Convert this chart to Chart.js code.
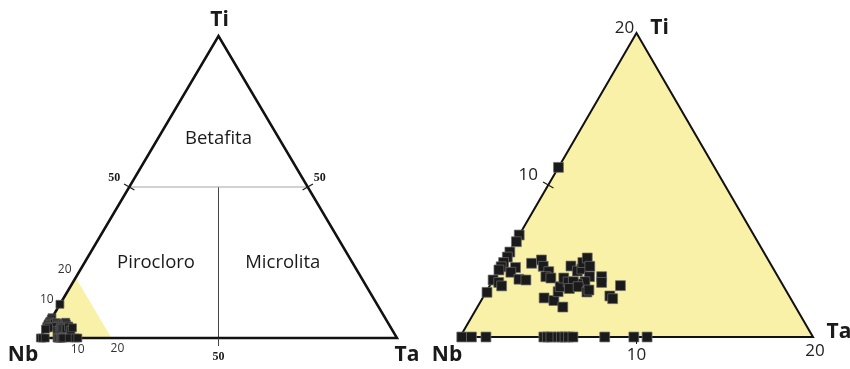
<!DOCTYPE html>
<html>
<head>
<meta charset="utf-8">
<script src="https://cdn.jsdelivr.net/npm/chart.js@4/dist/chart.umd.min.js"></script>
<style>
  html, body { margin: 0; padding: 0; background: #ffffff; }
  #wrap { position: relative; width: 850px; height: 369px; overflow: hidden; }
  #wrap canvas { position: absolute; top: 0; }
</style>
</head>
<body>
<div id="wrap">
  <canvas id="fullDiagram" width="425" height="369" style="left:0"></canvas>
  <canvas id="zoomDiagram" width="425" height="369" style="left:425px"></canvas>
</div>
<script>
// Ti and Ta contents of each analysis (% of Nb + Ta + Ti; Nb is the remainder)
const sampleTi = [
  6.71, 6.27, 5.59, 5.26, 4.90, 4.62, 4.41, 4.57, 4.26, 4.85,
  5.07, 4.65, 4.30, 3.97, 3.88, 3.80, 3.75, 3.75, 3.59, 3.36,
  2.94, 2.57, 2.40, 1.97, 2.98, 3.31, 3.88, 3.62, 4.67, 4.34,
  4.47, 4.90, 5.20, 4.65, 3.97, 3.64, 3.49, 3.64, 3.19, 3.31,
  2.96, 3.09, 3.97, 3.59, 2.70, 2.52, 3.38,
  11.16,
  0, 0, 0, 0, 0, 0, 0, 0, 0, 0, 0, 0, 0, 0
];
const sampleTa = [
  0.00, 0.06, 0.03, 0.05, 0.02, 0.02, 0.00, 0.86, 0.75, 1.63,
  2.08, 2.39, 2.88, 2.88, 3.21, 1.44, 1.86, 0.00, 0.40, 0.68,
  0.06, 3.48, 4.12, 4.84, 4.07, 4.02, 3.94, 4.32, 3.95, 4.48,
  4.67, 4.51, 4.61, 5.03, 5.35, 5.26, 4.91, 4.60, 4.60, 5.04,
  5.71, 5.76, 6.04, 6.23, 7.14, 7.39, 7.40,
  0.00,
  0.10, 0.65, 1.47, 4.75, 4.95, 5.15, 5.55, 5.75, 5.95, 6.15, 6.40, 8.20, 9.85, 10.60
];

// Corner names and classification fields (Hogarth-type Nb–Ta–Ti diagram)
const vertexNames = ['Nb', 'Ta', 'Ti'];
const fieldNames = ['Betafita', 'Pirocloro', 'Microlita'];

// Scale extents and tick labels
const fullScale = 100;        // whole diagram, %
const zoomScale = 20;         // enlarged Nb corner, %
const fullFieldLimit = 50;    // boundaries of the three fields
const fullTickLabels = ['50', '50', '50'];
const fullCornerTicks = [10, 20];
const zoomTickLabels = [10, 20];

const YELLOW = '#f9f1a8';
const MARK_FILL = '#1a1a1a';

// ternary (Ti, Ta) -> cartesian with Nb at the origin
const tern = (ti, ta) => ({ x: ta + ti / 2, y: ti });
const samplePoints = sampleTi.map((ti, i) => tern(ti, sampleTa[i]));

// axis limits so that 0 and `full` land on the given canvas pixels
function frame(x0, x1, y0, y1, full, w, h) {
  const kx = (x1 - x0) / full, ky = (y0 - y1) / full;
  return {
    x: { type: 'linear', display: false, min: -x0 / kx, max: (w - x0) / kx },
    y: { type: 'linear', display: false, min: -(h - y0) / ky, max: y0 / ky }
  };
}

// labels and edge ticks placed through the chart's own scales
const ternaryDecor = {
  id: 'ternaryDecor',
  afterDatasetsDraw(chart, args, opts) {
    const { ctx, scales: { x, y } } = chart;
    const px = (ti, ta) => {
      const p = tern(ti, ta);
      return [x.getPixelForValue(p.x), y.getPixelForValue(p.y)];
    };
    const full = opts.full;
    const nb = px(0, 0), ta = px(0, full), ti = px(full, 0);
    ctx.save();
    ctx.lineCap = 'butt';
    (opts.ticks || []).forEach(t => {
      const [cx, cy] = px(t.ti, t.ta);
      ctx.strokeStyle = t.color || '#1a1a1a';
      ctx.lineWidth = t.width || 1.2;
      ctx.beginPath();
      if (t.edge === 'bottom') {
        ctx.moveTo(cx, cy);
        ctx.lineTo(cx, cy + t.len);
      } else {
        const a = t.edge === 'left' ? nb : ta;
        let vx = ti[0] - a[0], vy = ti[1] - a[1];
        const n = Math.hypot(vx, vy);
        vx /= n; vy /= n;
        const qx = -vy, qy = vx;
        ctx.moveTo(cx - qx * t.len / 2, cy - qy * t.len / 2);
        ctx.lineTo(cx + qx * t.len / 2, cy + qy * t.len / 2);
      }
      ctx.stroke();
    });
    ctx.textAlign = 'center';
    ctx.textBaseline = 'middle';
    (opts.labels || []).forEach(l => {
      const [X, Y] = px(l.ti, l.ta);
      ctx.font = l.font;
      ctx.fillStyle = l.color || '#1a1a1a';
      ctx.fillText(l.text, X + (l.dx || 0), Y + (l.dy || 0));
    });
    ctx.restore();
  }
};

const lineSet = (data, extra) => Object.assign({
  type: 'line', data, showLine: true, pointRadius: 0, pointHoverRadius: 0,
  fill: false, tension: 0, borderJoinStyle: 'miter'
}, extra);

const markSet = (radius, edge) => ({
  type: 'scatter', data: samplePoints, order: 0,
  pointStyle: 'rect', pointRadius: radius, pointHoverRadius: radius,
  backgroundColor: MARK_FILL, borderColor: edge, borderWidth: 0.7
});

const common = (scales, decor) => ({
  responsive: false, animation: false, devicePixelRatio: 1,
  layout: { padding: 0, autoPadding: false },
  scales,
  plugins: { legend: { display: false }, tooltip: { enabled: false }, ternaryDecor: decor }
});

const SANS = '"Open Sans", "Noto Sans", sans-serif';
const SERIF = '"Liberation Serif", "DejaVu Serif", serif';

// ---- whole diagram ----
const F = fullScale, H = fullFieldLimit;
new Chart(document.getElementById('fullDiagram'), {
  type: 'scatter',
  data: {
    datasets: [
      markSet(5.6, '#5a5a5a'),
      lineSet([tern(0, 0), tern(0, F), tern(F, 0), tern(0, 0)],
        { borderColor: '#111', borderWidth: 2.5, order: 1 }),
      lineSet([tern(H, 0), tern(H, F - H)],
        { borderColor: '#a3a3a3', borderWidth: 1.2, order: 2 }),
      lineSet([tern(0, H), tern(H, (F - H) / 2)],
        { borderColor: '#444', borderWidth: 1, order: 2 }),
      lineSet([tern(0, 0), tern(fullCornerTicks[1], 0), tern(0, fullCornerTicks[1])],
        { borderColor: 'rgba(0,0,0,0)', borderWidth: 0, backgroundColor: YELLOW, fill: 'origin', order: 3 })
    ]
  },
  options: common(frame(40, 397, 338, 36, F, 425, 369), {
    full: F,
    ticks: [
      { edge: 'left', ti: H, ta: 0, len: 12 },
      { edge: 'right', ti: H, ta: F - H, len: 12 },
      { edge: 'bottom', ti: 0, ta: H, len: 8, color: '#444', width: 1 }
    ],
    labels: [
      { text: vertexNames[2], ti: F, ta: 0, dx: 1, dy: -16, font: 'bold 21px ' + SANS },
      { text: vertexNames[0], ti: 0, ta: 0, dx: -17, dy: 17, font: 'bold 21px ' + SANS },
      { text: vertexNames[1], ti: 0, ta: F, dx: 10, dy: 17, font: 'bold 21px ' + SANS },
      { text: fieldNames[0], ti: 66, ta: 17, font: '18.5px ' + SANS },
      { text: fieldNames[1], ti: 25, ta: 20, font: '18.5px ' + SANS },
      { text: fieldNames[2], ti: 25, ta: 55.5, font: '18.5px ' + SANS },
      { text: fullTickLabels[0], ti: H, ta: 0, dx: -15, dy: -9, font: 'bold 12px ' + SERIF },
      { text: fullTickLabels[1], ti: H, ta: F - H, dx: 12, dy: -9, font: 'bold 12px ' + SERIF },
      { text: fullTickLabels[2], ti: 0, ta: H, dx: 0, dy: 19, font: 'bold 12px ' + SERIF },
      { text: String(fullCornerTicks[1]), ti: fullCornerTicks[1], ta: 0, dx: -11, dy: -8, font: '12px ' + SANS, color: '#333' },
      { text: String(fullCornerTicks[0]), ti: fullCornerTicks[0], ta: 0, dx: -11, dy: -8, font: '12px ' + SANS, color: '#333' },
      { text: String(fullCornerTicks[0]), ti: 0, ta: fullCornerTicks[0], dx: 2, dy: 12, font: '12px ' + SANS, color: '#333' },
      { text: String(fullCornerTicks[1]), ti: 0, ta: fullCornerTicks[1], dx: 6, dy: 11, font: '12px ' + SANS, color: '#333' }
    ]
  }),
  plugins: [ternaryDecor]
});

// ---- enlarged Nb corner (0–20 %) ----
const Z = zoomScale;
new Chart(document.getElementById('zoomDiagram'), {
  type: 'scatter',
  data: {
    datasets: [
      markSet(7, '#6e6e6e'),
      lineSet([tern(0, 0), tern(0, Z), tern(Z, 0), tern(0, 0)],
        { borderColor: '#111', borderWidth: 2, order: 1 }),
      lineSet([tern(0, 0), tern(Z, 0), tern(0, Z)],
        { borderColor: 'rgba(0,0,0,0)', borderWidth: 0, backgroundColor: YELLOW, fill: 'origin', order: 3 })
    ]
  },
  options: common(frame(35, 388, 337, 33, Z, 425, 369), {
    full: Z,
    ticks: [
      { edge: 'left', ti: zoomTickLabels[0], ta: 0, len: 12 },
      { edge: 'bottom', ti: 0, ta: zoomTickLabels[0], len: 7, width: 1 }
    ],
    labels: [
      { text: vertexNames[2], ti: Z, ta: 0, dx: 23, dy: -5, font: 'bold 21px ' + SANS },
      { text: String(zoomTickLabels[1]), ti: Z, ta: 0, dx: -12, dy: -5, font: '17px ' + SANS, color: '#222' },
      { text: vertexNames[0], ti: 0, ta: 0, dx: -13, dy: 18, font: 'bold 21px ' + SANS },
      { text: vertexNames[1], ti: 0, ta: Z, dx: 26, dy: -5, font: 'bold 21px ' + SANS },
      { text: String(zoomTickLabels[1]), ti: 0, ta: Z, dx: 2, dy: 14, font: '17px ' + SANS, color: '#222' },
      { text: String(zoomTickLabels[0]), ti: 0, ta: zoomTickLabels[0], dx: 0, dy: 18, font: '17px ' + SANS, color: '#222' },
      { text: String(zoomTickLabels[0]), ti: zoomTickLabels[0], ta: 0, dx: -20, dy: -10, font: '17px ' + SANS, color: '#222' }
    ]
  }),
  plugins: [ternaryDecor]
});
</script>
</body>
</html>
